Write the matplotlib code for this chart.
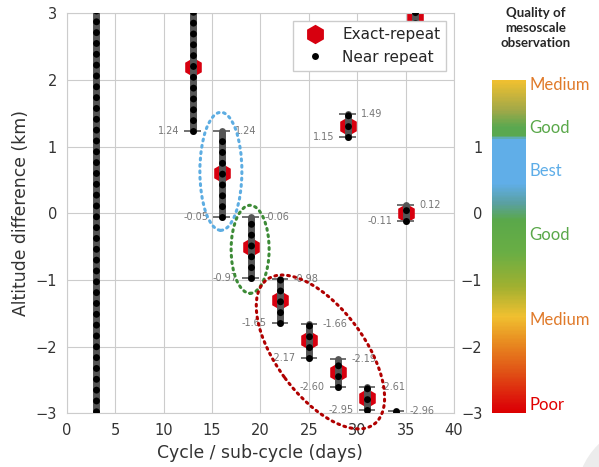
import numpy as np
import matplotlib
matplotlib.use("Agg")
import matplotlib.pyplot as plt
import matplotlib.transforms as mtransforms
from matplotlib.patches import Ellipse, Circle
from matplotlib.lines import Line2D
from matplotlib.colors import LinearSegmentedColormap, Normalize
from matplotlib.cm import ScalarMappable
import seaborn as sns

# Exact-repeat orbits
exact_x = [13, 16, 19, 22, 25, 28, 31, 29, 35, 36]
exact_y = [2.2, 0.6, -0.5, -1.3, -1.9, -2.38, -2.77, 1.31, 0.0, 2.95]

# Near-repeat bands (min / max altitude difference per cycle)
near_x = [3, 13, 16, 19, 22, 25, 28, 31, 34, 29, 35, 36]
near_lo = [-3.3, 1.24, -0.05, -0.97, -1.65, -2.17, -2.60, -2.95, -3.3, 1.15, -0.11, 2.86]
near_hi = [3.3, 3.3, 1.24, -0.06, -0.98, -1.66, -2.19, -2.61, -2.96, 1.49, 0.12, 3.3]
near_labelled = [False, True, True, True, True, True, True, True, True, True, True, False]

# quality scale next to the chart
quality_names = ["Medium", "Good", "Best", "Good", "Medium", "Poor"]
quality_levels = [1.93, 1.28, 0.635, -0.32, -1.6, -2.88]
quality_colors = ["#e07a2a", "#5aa84a", "#5dade8", "#5aa84a", "#e07a2a", "#e00000"]

sns.set_style("whitegrid")
plt.rcParams["font.family"] = ["DejaVu Sans"]

fig = plt.figure(figsize=(5.99, 4.67), dpi=100)
ax = fig.add_axes([0.1114, 0.115, 0.6466, 0.8565])

ax.scatter(exact_x, exact_y, marker="h", s=190, color="#d7000f", linewidth=0,
           zorder=2, label="Exact-repeat")

for x, lo, hi, lab in zip(near_x, near_lo, near_hi, near_labelled):
    ax.plot([x, x], [lo, hi], color="#555555", lw=5, solid_capstyle="round", zorder=3)
    ax.plot([x, x], [lo, hi], color="black", lw=5, linestyle=(0, (0.01, 1.55)),
            dash_capstyle="round", zorder=3.1)
    ax.hlines([lo, hi], x - 0.85, x + 0.85, color="#666666", lw=1.3, zorder=2.5)
    if lab:
        if -3 < lo < 3:
            ax.text(x - 1.4, lo, f"{lo:.2f}", ha="right", va="center",
                    fontsize=7, color="#777777", zorder=4)
        if -3 < hi < 3:
            ax.text(x + 1.4, hi, f"{hi:.2f}", ha="left", va="center",
                    fontsize=7, color="#777777", zorder=4)

# dotted ellipses, sized in inches around a data-space centre
def ring(cx, cy, w, h, angle, color):
    tr = fig.dpi_scale_trans + mtransforms.ScaledTranslation(cx, cy, ax.transData)
    e = Ellipse((0, 0), w, h, angle=angle, fill=False, edgecolor=color, lw=2.2,
                linestyle=(0, (0.6, 1.5)), capstyle="round", transform=tr,
                clip_on=False, zorder=5)
    ax.add_patch(e)

ring(15.92, 0.63, 0.42, 1.18, 0, "#5dade2")
ring(18.94, -0.54, 0.38, 0.88, 0, "#3d8b37")
ring(26.2, -2.08, 1.80, 0.88, -53.5, "#b00000")

ax.set_xlim(0, 40)
ax.set_ylim(-3, 3)
ax.set_xticks(range(0, 41, 5))
ax.set_yticks(range(-3, 4))
ax.tick_params(labelsize=10.5, colors="#333333")
ax.set_xlabel("Cycle / sub-cycle (days)", fontsize=12.4, color="#333333")
ax.set_ylabel("Altitude difference (km)", fontsize=12.4, color="#333333")

near_handle = Line2D([], [], marker="o", color="black", markeredgecolor="white",
                     markersize=6, linestyle="none", label="Near repeat")
ex_handle = Line2D([], [], marker="h", color="#d7000f", markeredgewidth=0,
                   markersize=14, linestyle="none", label="Exact-repeat")
ax.legend(handles=[ex_handle, near_handle], loc="upper right", fontsize=11,
          fancybox=False, edgecolor="#cccccc", framealpha=1)

# colour bar
stops = [(0.0, "#dc0000"), (0.02, "#dc0808"), (0.12, "#e05015"), (0.21, "#e88a20"),
         (0.29, "#f0c030"), (0.38, "#a0b030"), (0.48, "#6aae44"), (0.58, "#5aa84a"),
         (0.63, "#5aa0a0"), (0.69, "#60aee8"), (0.824, "#60aee8"), (0.834, "#5aa850"),
         (0.86, "#5aa850"), (0.91, "#a0a848"), (1.0, "#f0c030")]
cmap = LinearSegmentedColormap.from_list("quality", stops)
cax = fig.add_axes([0.8214, 0.115, 0.0568, 0.7137])
cb = fig.colorbar(ScalarMappable(norm=Normalize(-3, 2), cmap=cmap), cax=cax)
cb.outline.set_visible(False)
cax.yaxis.set_ticks_position("left")
cax.set_yticks(range(-3, 2))
cax.tick_params(length=0, pad=7, labelsize=10.5, colors="#333333")
for name, lev, col in zip(quality_names, quality_levels, quality_colors):
    cax.text(1.1, lev, name, transform=cax.get_yaxis_transform(), ha="left",
             va="center", fontsize=12, color=col, family="Lato")

fig.text(0.894, 0.984, "Quality of\nmesoscale\nobservation", ha="center", va="top",
         fontsize=9.5, fontweight="bold", family="Lato", linespacing=1.3)

fig.patches.append(Circle((650, -30), 73, color="#ececec",
                          transform=mtransforms.IdentityTransform(), zorder=0))

fig.savefig("out.png", dpi=100)
